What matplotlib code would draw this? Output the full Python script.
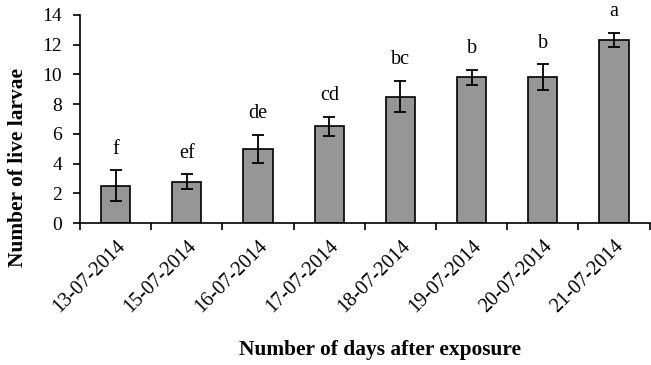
import numpy as np
import matplotlib
matplotlib.use("Agg")
import matplotlib.pyplot as plt

# data
dates = ["13-07-2014", "15-07-2014", "16-07-2014", "17-07-2014",
         "18-07-2014", "19-07-2014", "20-07-2014", "21-07-2014"]
means = [2.5, 2.78, 5.0, 6.5, 8.5, 9.8, 9.8, 12.3]
errors = [1.05, 0.49, 0.95, 0.64, 1.05, 0.5, 0.88, 0.48]
letters = ["f", "ef", "de", "cd", "bc", "b", "b", "a"]

plt.rcParams["font.family"] = "Liberation Serif"

fig = plt.figure(figsize=(6.51, 3.65), dpi=100)
ax = fig.add_axes([0.123, 0.389, 0.875, 0.570])

x = np.arange(len(dates))
ax.bar(x, means, width=0.41, color="#969696", edgecolor="black", linewidth=1.2,
       yerr=errors, capsize=4, error_kw={"elinewidth": 1.3, "capthick": 1.3})

for xi, m, e, lab in zip(x, means, errors, letters):
    ax.annotate(lab, (xi, m + e), xytext=(0, 12), textcoords="offset points",
                ha="center", va="baseline", fontsize=14.5)

ax.set_xlim(-0.5, len(dates) - 0.5)
ax.set_ylim(0, 14)
ax.set_yticks(range(0, 15, 2))
ax.tick_params(axis="y", labelsize=14, length=5, width=1.2, direction="out", pad=8)

# ticks between categories, labels at centres
ax.set_xticks(np.arange(-0.5, len(dates), 1.0))
ax.set_xticklabels([])
ax.set_xticks(x, minor=True)
ax.set_xticklabels(dates, minor=True, rotation=45, ha="right",
                   rotation_mode="anchor", fontsize=14.5)
ax.tick_params(axis="x", which="major", length=5, width=1.2, direction="out")
ax.tick_params(axis="x", which="minor", length=0, pad=10)

for s in ["top", "right"]:
    ax.spines[s].set_visible(False)
for s in ["left", "bottom"]:
    ax.spines[s].set_linewidth(1.2)

fig.text(0.028, 0.54, "Number of live larvae", rotation=90, ha="center",
         va="center", fontsize=15.4, fontweight="bold")
fig.text(0.584, 0.041, "Number of days after exposure", ha="center",
         va="center", fontsize=15.4, fontweight="bold")

fig.savefig("out.png", dpi=100)
